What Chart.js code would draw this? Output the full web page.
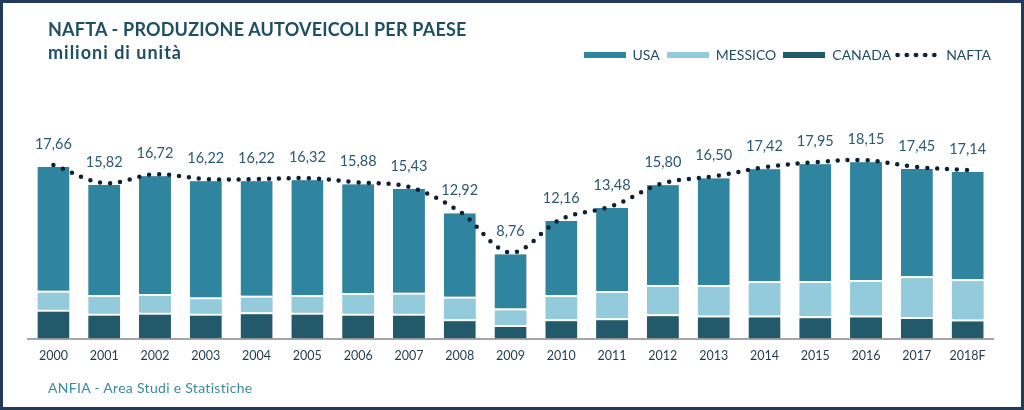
<!DOCTYPE html>
<html>
<head>
<meta charset="utf-8">
<script src="https://cdn.jsdelivr.net/npm/chart.js@4/dist/chart.umd.min.js"></script>
<style>
  body { margin: 0; background: #fff; }
  #wrap { position: relative; width: 1024px; height: 410px; overflow: hidden; font-family: Lato, sans-serif; }
  #frame { position: absolute; left: 0; top: 0; width: 1018px; height: 404px; border: 3px solid #203a58; pointer-events: none; }
  #title { position: absolute; left: 48px; top: 18px; color: #1d5062; font-weight: bold; font-size: 18px; line-height: 23px; letter-spacing: 0.2px; }
  #title .sub { letter-spacing: 1px; }
  #legend { position: absolute; right: 33px; top: 46px; display: flex; align-items: center; font-size: 14px; color: #1f4e68; }
  #legend .sw { width: 42px; height: 6px; margin-right: 7px; }
  #legend .tx { margin-right: 7px; }
  #legend .dots { width: 46px; height: 6px; margin-right: 7px;
    background-image: radial-gradient(circle, #0f1f36 2px, transparent 2.6px); background-size: 9.2px 6px; }
  #footer { position: absolute; left: 48px; top: 379px; font-size: 14px; letter-spacing: 0.3px; color: #3a8aa3; }
</style>
</head>
<body>
<div id="wrap">
  <canvas id="chart" width="1024" height="410"></canvas>
  <div id="title">NAFTA - PRODUZIONE AUTOVEICOLI PER PAESE<br><span class="sub">milioni di unità</span></div>
  <div id="legend">
    <span class="sw" style="background:#2f85a0"></span><span class="tx">USA</span>
    <span class="sw" style="background:#93cbdc"></span><span class="tx">MESSICO</span>
    <span class="sw" style="background:#235a6b"></span><span class="tx" style="margin-right:2px">CANADA</span>
    <span class="dots"></span><span>NAFTA</span>
  </div>
  <div id="footer">ANFIA - Area Studi e Statistiche</div>
  <div id="frame"></div>
</div>
<script>
var anni = ["2000","2001","2002","2003","2004","2005","2006","2007","2008","2009",
            "2010","2011","2012","2013","2014","2015","2016","2017","2018F"];

// milioni di unita
var canada  = [2.92, 2.51, 2.61, 2.51, 2.68, 2.61, 2.51, 2.51, 1.96, 1.38,
               1.96, 2.07, 2.47, 2.34, 2.34, 2.27, 2.34, 2.20, 1.93];
var messico = [1.94, 1.91, 1.91, 1.67, 1.67, 1.81, 2.12, 2.15, 2.29, 1.67,
               2.46, 2.76, 2.97, 3.10, 3.48, 3.58, 3.62, 4.13, 4.09];
var usa     = [12.80, 11.40, 12.20, 12.04, 11.87, 11.90, 11.25, 10.77, 8.67, 5.71,
               7.74, 8.65, 10.36, 11.06, 11.60, 12.10, 12.19, 11.12, 11.12];
var nafta   = [17.66, 15.82, 16.72, 16.22, 16.22, 16.32, 15.88, 15.43, 12.92, 8.76,
               12.16, 13.48, 15.80, 16.50, 17.42, 17.95, 18.15, 17.45, 17.14];

// ombra leggera sulle barre
var ombra = {
  id: 'ombra',
  beforeDatasetDraw: function (chart, args) {
    if (args.meta.type !== 'bar') return;
    var ctx = chart.ctx;
    ctx.save();
    ctx.shadowColor = 'rgba(0,0,0,0.22)';
    ctx.shadowBlur = 2;
    ctx.shadowOffsetX = 2;
    ctx.shadowOffsetY = 1;
  },
  afterDatasetDraw: function (chart, args) {
    if (args.meta.type !== 'bar') return;
    chart.ctx.restore();
  }
};

// etichette totali sopra le barre
var etichette = {
  id: 'etichette',
  afterDatasetsDraw: function (chart) {
    var ctx = chart.ctx;
    var meta = chart.getDatasetMeta(3);
    ctx.save();
    ctx.font = '14.5px Lato';
    ctx.fillStyle = '#2a5a72';
    ctx.textAlign = 'center';
    ctx.textBaseline = 'middle';
    meta.data.forEach(function (pt, i) {
      var v = nafta[i].toFixed(2).replace('.', ',');
      ctx.fillText(v, pt.x, pt.y - 21);
    });
    ctx.restore();
  }
};

new Chart(document.getElementById("chart"), {
  type: 'bar',
  data: {
    labels: anni,
    datasets: [
      { label: "CANADA", data: canada, backgroundColor: "#235a6b", order: 1 },
      { label: "MESSICO", data: messico, backgroundColor: "#93cbdc", order: 1 },
      { label: "USA", data: usa, backgroundColor: "#2f85a0", order: 1 },
      {
        type: 'line',
        label: "NAFTA",
        data: nafta,
        stack: 'nafta',
        order: 0,
        borderColor: "#0f1f36",
        borderWidth: 4.5,
        borderDash: [0, 10],
        borderCapStyle: 'round',
        tension: 0.35,
        pointRadius: 0,
        fill: false
      }
    ]
  },
  options: {
    responsive: false,
    animation: false,
    devicePixelRatio: 1,
    layout: { padding: { left: 28, right: 31, top: 142, bottom: 36.5 } },
    datasets: {
      bar: {
        barPercentage: 0.63,
        categoryPercentage: 1,
        borderColor: '#ffffff',
        borderWidth: { top: 2 },
        borderSkipped: 'start'
      }
    },
    plugins: {
      legend: { display: false },
      tooltip: { enabled: false }
    },
    scales: {
      x: {
        stacked: true,
        grid: { display: false, drawTicks: false },
        border: { color: '#a6a6a6', width: 2 },
        ticks: { color: '#1f3b4d', font: { family: 'Lato', size: 12.5 }, padding: 10 }
      },
      y: {
        stacked: true,
        display: false,
        min: 0,
        max: 20
      }
    }
  },
  plugins: [ombra, etichette]
});
</script>
</body>
</html>
